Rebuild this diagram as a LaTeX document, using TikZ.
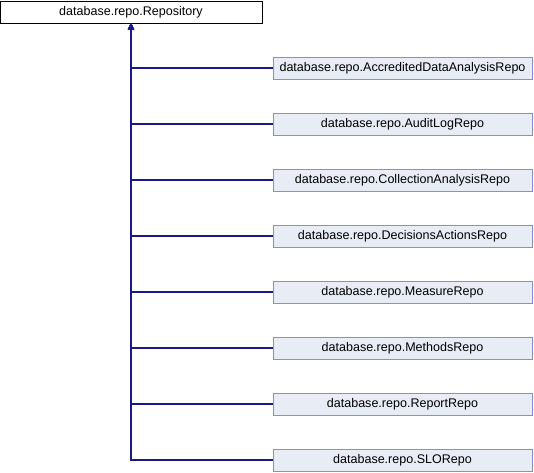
\documentclass[tikz,border=0pt]{standalone}
\usepackage{fontspec}
\setmainfont{Liberation Sans}
\usetikzlibrary{arrows.meta}

\definecolor{edgeblue}{RGB}{25,25,140}
\definecolor{boxfill}{RGB}{232,236,245}
\definecolor{boxline}{RGB}{132,146,196}

\tikzset{
	base/.style={draw=black, fill=white, minimum width=262*0.75pt, minimum height=22*0.75pt, inner sep=0pt, font=\fontsize{9.4}{11}\selectfont},
	derived/.style={draw=boxline, fill=boxfill, minimum width=259*0.75pt, minimum height=22*0.75pt, inner sep=0pt, font=\fontsize{9.4}{11}\selectfont},
	inherit/.style={draw=edgeblue, line width=0.8pt, -{Triangle[length=4.5pt,width=4.5pt]}}
}

\begin{document}
\begin{tikzpicture}[x=0.75pt,y=-0.75pt]
			\useasboundingbox (0,0) rectangle (534,472);
			\node[base](repo) at (131,12) {database.repo.Repository};
			\node[derived](accr) at (402.5,68) {database.repo.AccreditedDataAnalysisRepo};
			\node[derived](audit) at (402.5,124) {database.repo.AuditLogRepo};
			\node[derived](coll) at (402.5,180) {database.repo.CollectionAnalysisRepo};
			\node[derived](deci) at (402.5,236) {database.repo.DecisionsActionsRepo};
			\node[derived](meas) at (402.5,292) {database.repo.MeasureRepo};
			\node[derived](meth) at (402.5,348) {database.repo.MethodsRepo};
			\node[derived](report) at (402.5,404) {database.repo.ReportRepo};
			\node[derived](slo) at (402.5,460) {database.repo.SLORepo};
			\draw[inherit](accr.west) -| (repo.south);
			\draw[inherit](audit.west) -| (repo.south);
			\draw[inherit](coll.west) -| (repo.south);
			\draw[inherit](deci.west) -| (repo.south);
			\draw[inherit](meas.west) -| (repo.south);
			\draw[inherit](meth.west) -| (repo.south);
			\draw[inherit](report.west) -| (repo.south);
			\draw[inherit](slo.west) -| (repo.south);
		\end{tikzpicture}
\end{document}
